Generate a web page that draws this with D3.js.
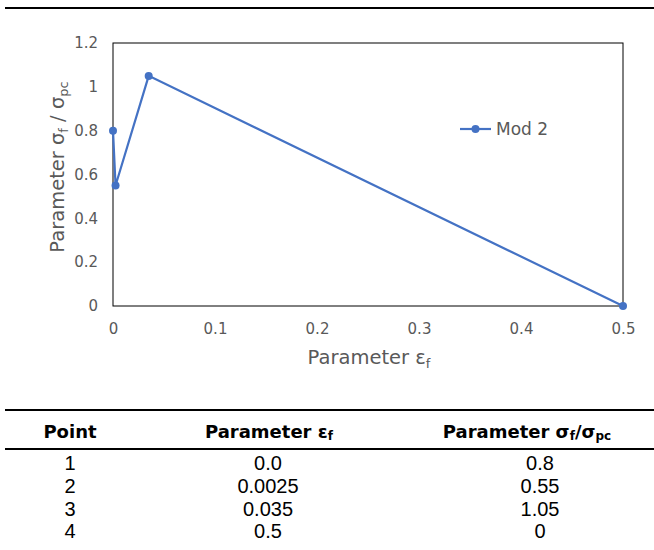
<!DOCTYPE html>
<html>
<head>
<meta charset="utf-8">
<script src="https://cdn.jsdelivr.net/npm/d3@7"></script>
<style>
  html, body { margin: 0; padding: 0; background: #fff; }
  svg { display: block; }
</style>
</head>
<body>
<svg id="fig" width="654" height="550"></svg>
<script>
// Softening curve "Mod 2": strain parameter vs. normalised stress
const pointIds = [1, 2, 3, 4];
const epsValues = [0.0, 0.0025, 0.035, 0.5];
const sigmaValues = [0.8, 0.55, 1.05, 0];
const epsLabels = ["0.0", "0.0025", "0.035", "0.5"];
const sigmaLabels = ["0.8", "0.55", "1.05", "0"];
const xTicks = [0, 0.1, 0.2, 0.3, 0.4, 0.5];
const yTicks = [0, 0.2, 0.4, 0.6, 0.8, 1, 1.2];
const seriesName = "Mod 2";

const svg = d3.select("#fig");
const font = "'DejaVu Sans', sans-serif";
const bodyFont = "'Liberation Sans', 'DejaVu Sans', sans-serif";
const blue = "#4472C4";
const grey = "#595959";

// top rule
svg.append("line").attr("x1", 5).attr("x2", 654).attr("y1", 8).attr("y2", 8)
  .attr("stroke", "#000").attr("stroke-width", 2.2);

const plot = { left: 113, right: 623, top: 43, bottom: 306 };
const x = d3.scaleLinear().domain([0, 0.5]).range([plot.left, plot.right]);
const y = d3.scaleLinear().domain([0, 1.2]).range([plot.bottom, plot.top]);

// frame
svg.append("rect").attr("x", plot.left).attr("y", plot.top)
  .attr("width", plot.right - plot.left).attr("height", plot.bottom - plot.top)
  .attr("fill", "none").attr("stroke", "#000").attr("stroke-width", 1);

// axes (labels only, no tick marks)
const xAxis = svg.append("g").attr("transform", `translate(0,${plot.bottom})`)
  .call(d3.axisBottom(x).tickValues(xTicks).tickSize(0).tickPadding(17)
    .tickFormat(d => d === 0 ? "0" : d3.format(".1f")(d)));
const yAxis = svg.append("g").attr("transform", `translate(${plot.left},0)`)
  .call(d3.axisLeft(y).tickValues(yTicks).tickSize(0).tickPadding(15)
    .tickFormat(d => (d === 0 || d === 1) ? String(d) : d3.format(".1f")(d)));
[xAxis, yAxis].forEach(g => {
  g.select(".domain").remove();
  g.selectAll("text").attr("font-family", font).attr("font-size", 15).attr("fill", grey);
});

// axis titles
const xt = svg.append("text").attr("x", 369).attr("y", 364).attr("text-anchor", "middle")
  .attr("font-family", font).attr("font-size", 19.5).attr("fill", grey);
xt.append("tspan").text("Parameter ε");
xt.append("tspan").attr("font-size", 13).attr("dy", 4).text("f");

const yt = svg.append("text").attr("transform", "translate(64,167) rotate(-90)")
  .attr("text-anchor", "middle").attr("font-family", font).attr("font-size", 19.5).attr("fill", grey);
yt.append("tspan").text("Parameter σ");
yt.append("tspan").attr("font-size", 13).attr("dy", 4).text("f");
yt.append("tspan").attr("dy", -4).text(" / σ");
yt.append("tspan").attr("font-size", 13).attr("dy", 4).text("pc");

// series
const data = epsValues.map((e, i) => ({ e, s: sigmaValues[i] }));
svg.append("path").datum(data)
  .attr("d", d3.line().x(d => x(d.e)).y(d => y(d.s)))
  .attr("fill", "none").attr("stroke", blue).attr("stroke-width", 2.2);
svg.selectAll("circle.pt").data(data).enter().append("circle")
  .attr("class", "pt").attr("cx", d => x(d.e)).attr("cy", d => y(d.s)).attr("r", 4)
  .attr("fill", blue);

// legend
const lg = svg.append("g").attr("transform", "translate(460,129)");
lg.append("line").attr("x1", 0).attr("x2", 31).attr("stroke", blue).attr("stroke-width", 2.2);
lg.append("circle").attr("cx", 15.5).attr("cy", 0).attr("r", 4).attr("fill", blue);
lg.append("text").attr("x", 36).attr("y", 6).attr("font-family", font).attr("font-size", 17)
  .attr("fill", grey).text(seriesName);

// data table
const colX = [70, 268, 540];
const headX = [70, 269, 527];
svg.append("line").attr("x1", 5).attr("x2", 654).attr("y1", 410).attr("y2", 410)
  .attr("stroke", "#000").attr("stroke-width", 2.2);
svg.append("line").attr("x1", 5).attr("x2", 654).attr("y1", 449).attr("y2", 449)
  .attr("stroke", "#000").attr("stroke-width", 2.2);

const head = svg.append("g").attr("font-family", font).attr("font-size", 18)
  .attr("font-weight", "bold").attr("fill", "#000").attr("text-anchor", "middle");
head.append("text").attr("x", headX[0]).attr("y", 438).text("Point");
const h2 = head.append("text").attr("x", headX[1]).attr("y", 438);
h2.append("tspan").text("Parameter ε");
h2.append("tspan").attr("font-size", 12).attr("dy", 2).text("f");
const h3 = head.append("text").attr("x", headX[2]).attr("y", 438);
h3.append("tspan").text("Parameter σ");
h3.append("tspan").attr("font-size", 12).attr("dy", 2).text("f");
h3.append("tspan").attr("dy", -2).text("/σ");
h3.append("tspan").attr("font-size", 12).attr("dy", 2).text("pc");

const rowY = [470, 493, 515.5, 538];
const body = svg.append("g").attr("font-family", bodyFont).attr("font-size", 20)
  .attr("fill", "#000").attr("text-anchor", "middle");
pointIds.forEach((p, i) => {
  body.append("text").attr("x", colX[0]).attr("y", rowY[i]).text(p);
  body.append("text").attr("x", colX[1]).attr("y", rowY[i]).text(epsLabels[i]);
  body.append("text").attr("x", colX[2]).attr("y", rowY[i]).text(sigmaLabels[i]);
});
</script>
</body>
</html>
